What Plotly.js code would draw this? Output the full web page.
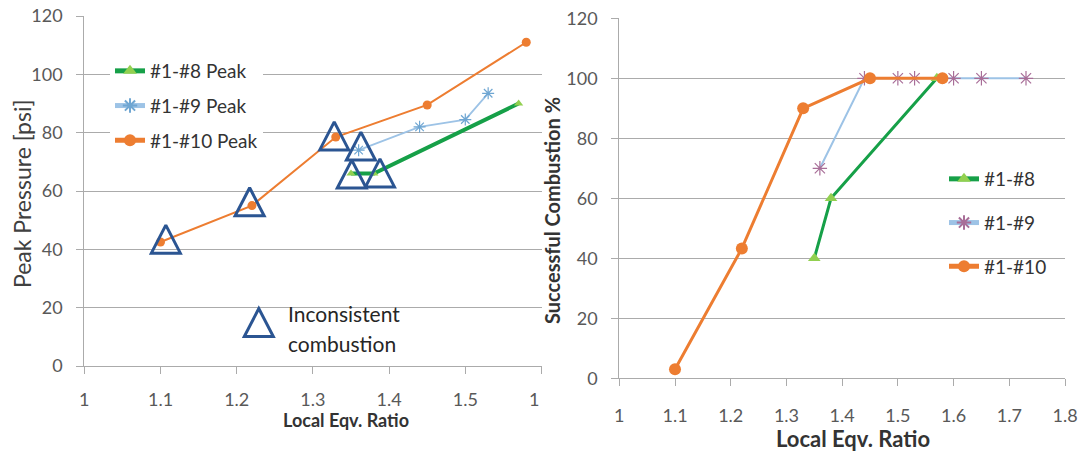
<!DOCTYPE html>
<html>
<head>
<meta charset="utf-8">
<script src="https://cdn.plot.ly/plotly-3.0.1.min.js"></script>
<style>
  html, body { margin: 0; padding: 0; background: #ffffff; }
  #chart { width: 1083px; height: 452px; }
</style>
</head>
<body>
<div id="chart"></div>
<script>
// ---- Peak pressure vs local equivalence ratio (left panel) ----
const peakPhi8 = [1.35, 1.38, 1.57];
const peak8 = [66, 66, 90];
const peakPhi9 = [1.36, 1.44, 1.50, 1.53];
const peak9 = [74, 82, 84.5, 93.5];
const peakPhi10 = [1.10, 1.22, 1.33, 1.45, 1.58];
const peak10 = [42.5, 55, 78.5, 89.5, 111];

// runs flagged as inconsistent combustion
const inconsPhi = [1.107, 1.217, 1.328, 1.363, 1.351, 1.388];
const inconsPeak = [43.5, 56.3, 78.9, 75.4, 65.8, 66.2];

// ---- Successful combustion rate (right panel) ----
const succPhi8 = [1.35, 1.38, 1.57];
const succ8 = [40, 60, 100];
const succPhi9 = [1.36, 1.44, 1.50, 1.53, 1.60, 1.65, 1.73];
const succ9 = [70, 100, 100, 100, 100, 100, 100];
const succPhi10 = [1.10, 1.22, 1.33, 1.45, 1.58];
const succ10 = [3, 43.3, 90, 100, 100];

const peakNames = ['#1-#8 Peak', '#1-#9 Peak', '#1-#10 Peak'];
const succNames = ['#1-#8', '#1-#9', '#1-#10'];
const noteLines = ['Inconsistent', 'combustion'];
const xTitle = 'Local Eqv. Ratio';
const yTitleLeft = 'Peak Pressure [psi]';
const yTitleRight = 'Successful Combustion %';

// ---- geometry (pixels) ----
const W = 1083, H = 452;
const FONT = 'Lato, "Open Sans", Arial, sans-serif';
const L = { x0: 84.3, x1: 541.5, yBot: 366, yTop: 16, xr: [1, 1.6], yr: [0, 120] };
const R = { x0: 619.3, x1: 1065, yBot: 378.3, yTop: 18.3, xr: [1, 1.8], yr: [0, 120] };

const C = {
  orange: '#ED7D31',
  green: '#16A048',
  greenMk: '#92D050',
  blueLine: '#9DC3E6',
  blueMkL: '#6FA6D2',
  mauve: '#A86E98',
  tri: '#2B5592',
  grid: '#ABABAB',
  tick: '#595959',
  text: '#333333'
};

// open triangle outlines around the flagged runs, sized in pixels
const triHalfW = 14.5, triHalfH = 14;
const pxX = (L.x1 - L.x0) / (L.xr[1] - L.xr[0]);
const pxY = (L.yBot - L.yTop) / (L.yr[1] - L.yr[0]);
const triX = [], triY = [];
inconsPhi.forEach((p, i) => {
  const v = inconsPeak[i];
  const dx = triHalfW / pxX, dy = triHalfH / pxY;
  triX.push(p, p + dx, p, p - dx, p, null);
  triY.push(v - dy, v - dy, v + dy, v - dy, v - dy, null);
});

const traces = [
  { x: peakPhi8, y: peak8, name: peakNames[0], xaxis: 'x', yaxis: 'y', legend: 'legend', legendgroup: 'p8',
    mode: 'lines+markers', line: { color: C.green, width: 4 },
    marker: { symbol: 'triangle-up', size: 8, color: C.greenMk } },
  { x: peakPhi9, y: peak9, name: peakNames[1], xaxis: 'x', yaxis: 'y', legend: 'legend', legendgroup: 'p9',
    mode: 'lines+markers', line: { color: C.blueLine, width: 1.8 },
    marker: { symbol: 'asterisk-open', size: 10, color: C.blueMkL, line: { color: C.blueMkL, width: 1.2 } } },
  { x: peakPhi10, y: peak10, name: peakNames[2], xaxis: 'x', yaxis: 'y', legend: 'legend', legendgroup: 'p10',
    mode: 'lines+markers', line: { color: C.orange, width: 2 },
    marker: { symbol: 'circle', size: 9, color: C.orange } },
  { x: triX, y: triY, name: noteLines.join(' '), xaxis: 'x', yaxis: 'y', showlegend: false,
    mode: 'lines', line: { color: C.tri, width: 3 }, hoverinfo: 'skip' },

  { x: succPhi8, y: succ8, name: succNames[0], xaxis: 'x2', yaxis: 'y2', legend: 'legend2', legendgroup: 's8',
    mode: 'lines+markers', line: { color: C.green, width: 3 },
    marker: { symbol: 'triangle-up', size: 11, color: C.greenMk } },
  { x: succPhi9, y: succ9, name: succNames[1], xaxis: 'x2', yaxis: 'y2', legend: 'legend2', legendgroup: 's9',
    mode: 'lines+markers', line: { color: C.blueLine, width: 2 },
    marker: { symbol: 'asterisk-open', size: 12, color: C.mauve, line: { color: C.mauve, width: 1.2 } } },
  { x: succPhi10, y: succ10, name: succNames[2], xaxis: 'x2', yaxis: 'y2', legend: 'legend2', legendgroup: 's10',
    mode: 'lines+markers', line: { color: C.orange, width: 3 },
    marker: { symbol: 'circle', size: 12, color: C.orange } }
];

function xAxis(p, anchor, standoff) {
  return {
    domain: [p.x0 / W, p.x1 / W], range: p.xr, anchor: anchor,
    dtick: 0.1, tick0: 1, showgrid: false, zeroline: false,
    showline: true, linecolor: C.grid, linewidth: 1,
    ticks: 'outside', ticklen: 7, tickcolor: C.grid, tickwidth: 1,
    tickfont: { family: FONT, size: 18, color: C.tick }, ticklabelstandoff: standoff,
    automargin: false, fixedrange: true
  };
}
function yAxis(p, anchor) {
  return {
    domain: [(H - p.yBot) / H, (H - p.yTop) / H], range: p.yr, anchor: anchor,
    dtick: 20, tick0: 0, showgrid: true, gridcolor: C.grid, gridwidth: 1, zeroline: false,
    showline: true, linecolor: C.grid, linewidth: 1,
    ticks: 'outside', ticklen: 7, tickcolor: C.grid, tickwidth: 1,
    tickfont: { family: FONT, size: 18, color: C.tick }, ticklabelstandoff: 10,
    automargin: false, fixedrange: true
  };
}

// key triangle next to the note text
const key = { cx: 258.8, cy: 322.5 };
const keyPath = 'M' + (key.cx) / W + ',' + (H - key.cy - triHalfH) / H +
  ' L' + (key.cx + triHalfW) / W + ',' + (H - key.cy - triHalfH) / H +
  ' L' + key.cx / W + ',' + (H - key.cy + triHalfH) / H +
  ' L' + (key.cx - triHalfW) / W + ',' + (H - key.cy - triHalfH) / H + ' Z';

function label(text, px, py, size, opts) {
  return Object.assign({
    xref: 'paper', yref: 'paper', x: px / W, y: (H - py) / H,
    xanchor: 'center', yanchor: 'middle', showarrow: false, text: text,
    font: { family: FONT, size: size, color: C.text }
  }, opts || {});
}

const layout = {
  width: W, height: H,
  margin: { l: 0, r: 0, t: 0, b: 0, pad: 0 },
  paper_bgcolor: '#ffffff', plot_bgcolor: 'rgba(0,0,0,0)',
  font: { family: FONT, color: C.text },
  showlegend: true,
  xaxis: xAxis(L, 'y', 10),
  yaxis: yAxis(L, 'x'),
  xaxis2: xAxis(R, 'y2', 14),
  yaxis2: yAxis(R, 'x2'),
  legend: {
    x: 110 / W, y: (H - 52) / H, xanchor: 'left', yanchor: 'top',
    bgcolor: '#ffffff', borderwidth: 0, traceorder: 'grouped', tracegroupgap: 7,
    font: { family: FONT, size: 19, color: C.text }, itemsizing: 'constant'
  },
  legend2: {
    x: 944 / W, y: (H - 160) / H, xanchor: 'left', yanchor: 'top',
    bgcolor: 'rgba(0,0,0,0)', borderwidth: 0, traceorder: 'grouped', tracegroupgap: 16,
    font: { family: FONT, size: 19, color: C.text }, itemsizing: 'constant'
  },
  shapes: [
    { type: 'path', xref: 'paper', yref: 'paper', path: keyPath,
      line: { color: C.tri, width: 3 }, fillcolor: 'rgba(0,0,0,0)', layer: 'above' },
    // left panel is trimmed at its right edge
    { type: 'rect', xref: 'paper', yref: 'paper', x0: 539 / W, x1: 562 / W,
      y0: (H - 420) / H, y1: (H - 385) / H, line: { width: 0 }, fillcolor: '#ffffff', layer: 'above' }
  ],
  annotations: [
    // axis titles
    label(xTitle, 345.5, 420, 18, { font: { family: FONT, size: 18, color: C.text, weight: 'bold' } }),
    label(xTitle, 853, 438, 22, { font: { family: FONT, size: 22, color: C.text, weight: 'bold' } }),
    label(yTitleLeft, 22, 194, 23, { textangle: -90, font: { family: FONT, size: 23, color: '#404040' } }),
    label(yTitleRight, 552, 211, 20, { textangle: -90, font: { family: FONT, size: 20, color: C.text, weight: 'bold' } }),
    // note beside the key triangle
    label(noteLines[0], 286, 313, 21, { xanchor: 'left', font: { family: FONT, size: 21, color: '#262626' } }),
    label(noteLines[1], 286, 343, 21, { xanchor: 'left', font: { family: FONT, size: 21, color: '#262626' } })
  ]
};

Plotly.newPlot('chart', traces, layout, { displayModeBar: false, staticPlot: true });
</script>
</body>
</html>
